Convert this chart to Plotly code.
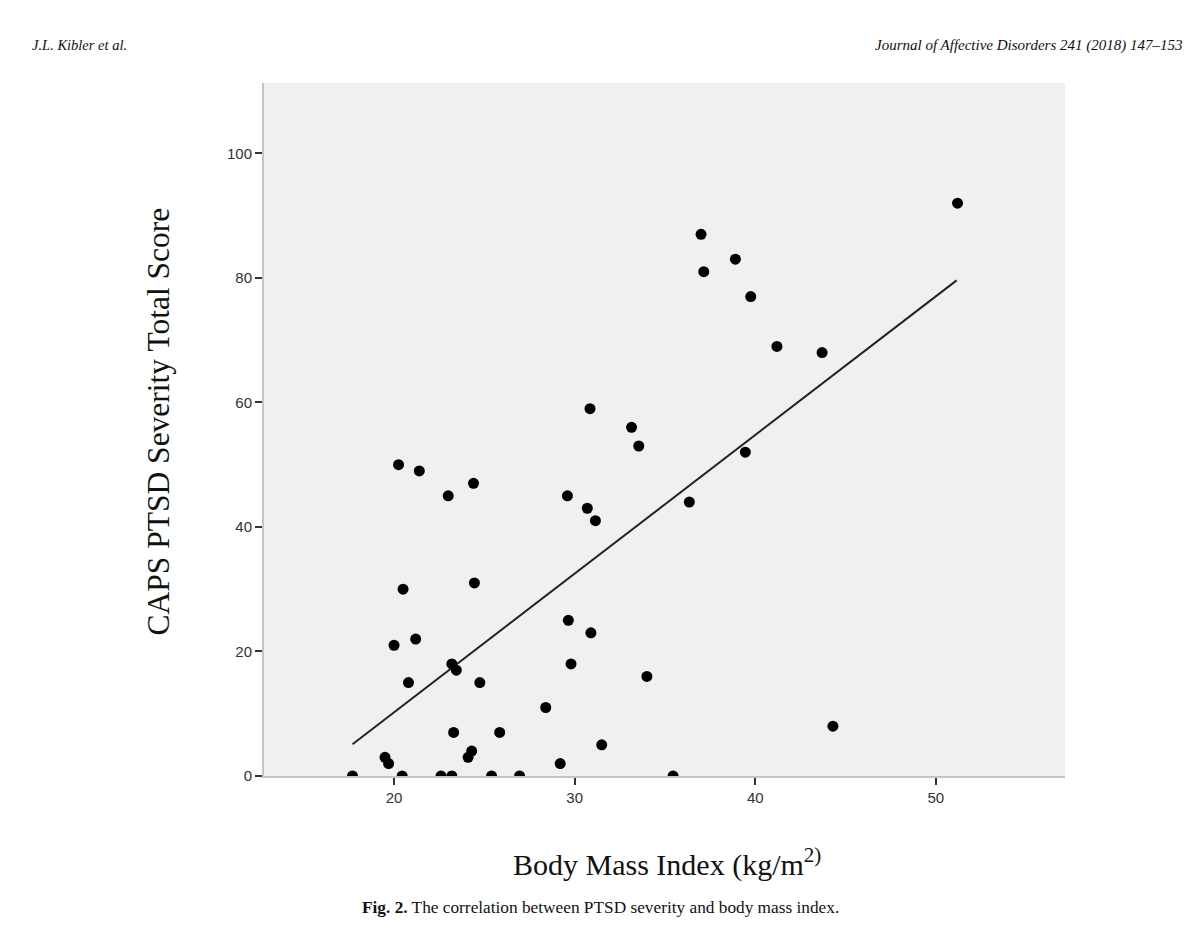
import plotly.graph_objects as go

# Data: BMI (x) vs CAPS PTSD severity total score (y)
bmi = [17.7, 19.5, 19.7, 20.25, 20.0, 20.5, 20.45, 20.8, 21.2, 21.4,
       22.6, 23.0, 23.2, 23.2, 23.45, 23.3, 24.4, 24.45, 24.1, 24.3,
       24.75, 25.4, 25.85, 26.95, 28.4, 29.2, 29.6, 29.65, 29.8, 30.7,
       30.85, 30.9, 31.15, 31.5, 33.15, 33.55, 34.0, 35.45, 36.35, 37.0,
       37.15, 38.9, 39.45, 39.75, 41.2, 43.7, 44.3, 51.2]
caps = [0, 3, 2, 50, 21, 30, 0, 15, 22, 49,
        0, 45, 0, 18, 17, 7, 47, 31, 3, 4,
        15, 0, 7, 0, 11, 2, 45, 25, 18, 43,
        59, 23, 41, 5, 56, 53, 16, 0, 44, 87,
        81, 83, 52, 77, 69, 68, 8, 92]

# Fit line end points
fit_x = [17.7, 51.15]
fit_y = [5.1, 79.6]

x_ticks = [20, 30, 40, 50]
y_ticks = [0, 20, 40, 60, 80, 100]

fig = go.Figure()
fig.add_trace(go.Scatter(x=fit_x, y=fit_y, mode="lines",
                         line=dict(color="#222222", width=2),
                         showlegend=False, hoverinfo="skip"))
fig.add_trace(go.Scatter(x=bmi, y=caps, mode="markers",
                         marker=dict(color="black", size=11),
                         showlegend=False))

tickfont = dict(family="Liberation Sans, Arial, sans-serif", size=15, color="#333333")

fig.update_xaxes(range=[12.8, 57.15], tickvals=x_ticks, ticks="outside",
                 ticklen=7, tickwidth=2, tickcolor="#333333",
                 showline=True, linecolor="#c4c4c4", linewidth=2,
                 showgrid=False, zeroline=False, tickfont=tickfont,
                 layer="above traces")
fig.update_yaxes(range=[0, 111.3], tickvals=y_ticks, ticks="outside",
                 ticklen=7, tickwidth=2, tickcolor="#333333",
                 showline=True, linecolor="#c4c4c4", linewidth=2,
                 showgrid=False, zeroline=False, tickfont=tickfont)

serif = "Liberation Serif, Times New Roman, serif"
annotations = [
    dict(text="CAPS PTSD Severity Total Score", x=-0.132, y=0.512,
         xref="paper", yref="paper", textangle=-90, showarrow=False,
         xanchor="center", yanchor="middle",
         font=dict(family=serif, size=31.5, color="#111111")),
    dict(text="Body Mass Index (kg/m<sup>2)</sup>", x=0.503, y=-0.1245,
         xref="paper", yref="paper", showarrow=False,
         xanchor="center", yanchor="middle",
         font=dict(family=serif, size=30, color="#111111")),
    dict(text="<b>Fig. 2.</b> The correlation between PTSD severity and body mass index.",
         x=0.4195, y=-0.1895, xref="paper", yref="paper", showarrow=False,
         xanchor="center", yanchor="middle",
         font=dict(family=serif, size=17.3, color="#111111")),
    dict(text="<i>J.L. Kibler et al.</i>", x=-0.292, y=1.0544,
         xref="paper", yref="paper", showarrow=False,
         xanchor="left", yanchor="middle",
         font=dict(family=serif, size=14.5, color="#111111")),
    dict(text="<i>Journal of Affective Disorders 241 (2018) 147–153</i>", x=1.148, y=1.0544,
         xref="paper", yref="paper", showarrow=False,
         xanchor="right", yanchor="middle",
         font=dict(family=serif, size=15, color="#111111")),
]

fig.update_layout(width=1200, height=929,
                  margin=dict(l=264, r=135, t=83, b=153),
                  paper_bgcolor="white", plot_bgcolor="#f0f0f0",
                  annotations=annotations)

fig.write_html("out.html")
